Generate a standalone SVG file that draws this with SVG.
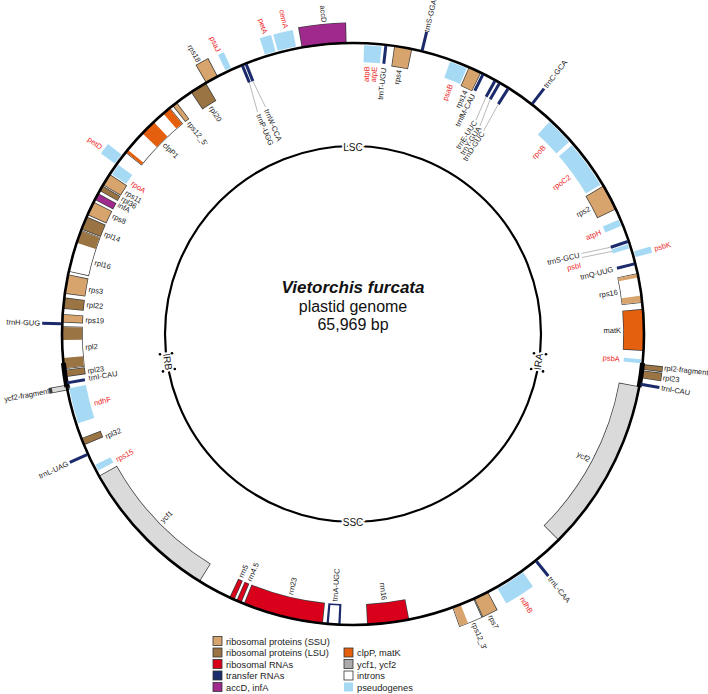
<svg xmlns="http://www.w3.org/2000/svg" xmlns:xlink="http://www.w3.org/1999/xlink" width="708" height="694" viewBox="0 0 708 694">
<style>
.ol{stroke:#3d3d3d;stroke-width:21.4}
.f{stroke-width:20}
.ssu{stroke:#D6A46C}.lsu{stroke:#9A7443}.rrn{stroke:#D9001B}.acc{stroke:#A0298E}.clp{stroke:#E4600E}.ycf{stroke:#DADADA}.wh{stroke:#fff}
.ps{stroke:#A6DAF4;stroke-width:17}
.tr{stroke:#1B2A6B;stroke-width:3}
.ir{stroke:#000;stroke-width:5}
.l{font-family:'Liberation Sans',Arial,sans-serif;font-size:7.5px;fill:#222}
.r{fill:#ED1C24}
.e{text-anchor:end}
.ld{fill:none;stroke:#8a8a8a;stroke-width:0.6}
.lg{font-family:'Liberation Sans',Arial,sans-serif;font-size:9.3px;fill:#222}
.lb{stroke:#333;stroke-width:0.8}
.reg{font-family:'Liberation Sans',Arial,sans-serif;font-size:10px;fill:#111;text-anchor:middle;paint-order:stroke;stroke:#fff;stroke-width:4}
</style>
<defs>
<circle id="ri" cx="353" cy="334" r="281" pathLength="360" fill="none"/>
<circle id="ro" cx="353" cy="334" r="301" pathLength="360" fill="none"/>
<circle id="pi" cx="353" cy="334" r="280.5" pathLength="360" fill="none"/>
<circle id="po" cx="353" cy="334" r="301.5" pathLength="360" fill="none"/>
<circle id="rf" cx="353" cy="334" r="298.5" pathLength="360" fill="none"/>
<circle id="rc" cx="353" cy="334" r="291" pathLength="360" fill="none"/>
</defs>

<!-- outside genes -->
<g id="accD"><use href="#ro" class="ol" stroke-dasharray="8.9 400" transform="rotate(-100.15 353 334)"/><use href="#ro" class="f acc" stroke-dasharray="8.6 400" transform="rotate(-100 353 334)"/></g>
<g id="rps18"><use href="#ro" class="ol" stroke-dasharray="2.7 400" transform="rotate(239.65 353 334)"/><use href="#ro" class="f ssu" stroke-dasharray="2.4 400" transform="rotate(239.8 353 334)"/></g>
<g id="rpl2-fragment"><use href="#ro" class="ol" stroke-dasharray="1.1 400" transform="rotate(5.95 353 334)"/><use href="#ro" class="f lsu" stroke-dasharray="0.8 400" transform="rotate(6.1 353 334)"/></g>
<g id="rpl23-IRA"><use href="#ro" class="ol" stroke-dasharray="1.6 400" transform="rotate(7.15 353 334)"/><use href="#ro" class="f lsu" stroke-dasharray="1.3 400" transform="rotate(7.3 353 334)"/></g>
<g id="rps7"><use href="#ro" class="ol" stroke-dasharray="3.1 400" transform="rotate(62.35 353 334)"/><use href="#ro" class="f ssu" stroke-dasharray="2.8 400" transform="rotate(62.5 353 334)"/></g>
<g id="rps12-3"><use href="#ro" class="ol" stroke-dasharray="4.6 400" transform="rotate(65.45 353 334)"/><use href="#ro" class="f wh" stroke-dasharray="4.3 400" transform="rotate(65.6 353 334)"/><use href="#ro" class="f ssu" stroke-dasharray="1.6 400" transform="rotate(68.3 353 334)"/></g>
<g id="ycf2-fragment"><use href="#rf" class="ol" stroke-width="16.4" stroke-dasharray="1.1 400" transform="rotate(168.85 353 334)"/><use href="#rf" class="ycf" stroke-width="15" stroke-dasharray="0.8 400" transform="rotate(169 353 334)"/></g>
<g id="cemA"><use href="#po" class="ps" stroke-dasharray="3.7 400" transform="rotate(-104.9 353 334)"/></g>
<g id="petA"><use href="#po" class="ps" stroke-dasharray="2.2 400" transform="rotate(-107.5 353 334)"/></g>
<g id="psaJ"><use href="#po" class="ps" stroke-dasharray="1.2 400" transform="rotate(-115.8 353 334)"/></g>
<g id="petD"><use href="#po" class="ps" stroke-dasharray="2.2 400" transform="rotate(215.6 353 334)"/></g>
<g id="psbK"><use href="#po" class="ps" stroke-dasharray="1.2 400" transform="rotate(-16.4 353 334)"/></g>
<g id="ndhB"><use href="#po" class="ps" stroke-dasharray="5.9 400" transform="rotate(54.5 353 334)"/></g>

<!-- inside genes -->
<g id="rps4"><use href="#ri" class="ol" stroke-dasharray="3.6 400" transform="rotate(-81.85 353 334)"/><use href="#ri" class="f ssu" stroke-dasharray="3.3 400" transform="rotate(-81.7 353 334)"/></g>
<g id="rps14"><use href="#ri" class="ol" stroke-dasharray="2.7 400" transform="rotate(-66.55 353 334)"/><use href="#ri" class="f ssu" stroke-dasharray="2.4 400" transform="rotate(-66.4 353 334)"/></g>
<g id="rps2"><use href="#ri" class="ol" stroke-dasharray="5.3 400" transform="rotate(-30.65 353 334)"/><use href="#ri" class="f ssu" stroke-dasharray="5 400" transform="rotate(-30.5 353 334)"/></g>
<g id="rps16"><use href="#ri" class="ol" stroke-dasharray="5.9 400" transform="rotate(-12.05 353 334)"/><use href="#ri" class="f wh" stroke-dasharray="5.6 400" transform="rotate(-11.9 353 334)"/><use href="#ri" class="f ssu" stroke-dasharray="0.7 400" transform="rotate(-11.9 353 334)"/><use href="#ri" class="f ssu" stroke-dasharray="1.3 400" transform="rotate(-7.6 353 334)"/></g>
<g id="matK"><use href="#ri" class="ol" stroke-dasharray="8.3 400" transform="rotate(-4.95 353 334)"/><use href="#ri" class="f clp" stroke-dasharray="8 400" transform="rotate(-4.8 353 334)"/></g>
<g id="ycf2"><use href="#ri" class="ol" stroke-dasharray="34.8 400" transform="rotate(10.35 353 334)"/><use href="#ri" class="f ycf" stroke-dasharray="34.5 400" transform="rotate(10.5 353 334)"/></g>
<g id="rrn16"><use href="#ri" class="ol" stroke-dasharray="8.4 400" transform="rotate(78.85 353 334)"/><use href="#ri" class="f rrn" stroke-dasharray="8.1 400" transform="rotate(79 353 334)"/></g>
<g id="trnA-UGC"><use href="#ri" stroke="#1B2A6B" stroke-width="21.4" stroke-dasharray="2.8 400" transform="rotate(92.45 353 334)"/><use href="#ri" class="wh" stroke-width="18.2" stroke-dasharray="1.9 400" transform="rotate(92.9 353 334)"/></g>
<g id="rrn23"><use href="#ri" class="ol" stroke-dasharray="16.1 400" transform="rotate(95.95 353 334)"/><use href="#ri" class="f rrn" stroke-dasharray="15.8 400" transform="rotate(96.1 353 334)"/></g>
<g id="rrn4.5"><use href="#ri" class="ol" stroke-dasharray="1.1 400" transform="rotate(112.55 353 334)"/><use href="#ri" class="f rrn" stroke-dasharray="0.8 400" transform="rotate(112.7 353 334)"/></g>
<g id="rrn5"><use href="#ri" class="ol" stroke-dasharray="1.1 400" transform="rotate(114.05 353 334)"/><use href="#ri" class="f rrn" stroke-dasharray="0.8 400" transform="rotate(114.2 353 334)"/></g>
<g id="ycf1"><use href="#ri" class="ol" stroke-dasharray="29.1 400" transform="rotate(121.75 353 334)"/><use href="#ri" class="f ycf" stroke-dasharray="28.8 400" transform="rotate(121.9 353 334)"/></g>
<g id="rpl32"><use href="#ri" class="ol" stroke-dasharray="1.5 400" transform="rotate(157.55 353 334)"/><use href="#ri" class="f lsu" stroke-dasharray="1.2 400" transform="rotate(157.7 353 334)"/></g>
<g id="rpl23-IRB"><use href="#ri" class="ol" stroke-dasharray="1.5 400" transform="rotate(171.45 353 334)"/><use href="#ri" class="f lsu" stroke-dasharray="1.2 400" transform="rotate(171.6 353 334)"/></g>
<g id="rpl2"><use href="#ri" class="ol" stroke-dasharray="8.5 400" transform="rotate(173.05 353 334)"/><use href="#ri" class="f wh" stroke-dasharray="8.2 400" transform="rotate(173.2 353 334)"/><use href="#ri" class="f lsu" stroke-dasharray="2.1 400" transform="rotate(173.2 353 334)"/><use href="#ri" class="f lsu" stroke-dasharray="2.6 400" transform="rotate(178.8 353 334)"/></g>
<g id="rps19"><use href="#ri" class="ol" stroke-dasharray="1.7 400" transform="rotate(182.25 353 334)"/><use href="#ri" class="f ssu" stroke-dasharray="1.4 400" transform="rotate(182.4 353 334)"/></g>
<g id="rpl22"><use href="#ri" class="ol" stroke-dasharray="2.3 400" transform="rotate(184.95 353 334)"/><use href="#ri" class="f lsu" stroke-dasharray="2 400" transform="rotate(185.1 353 334)"/></g>
<g id="rps3"><use href="#ri" class="ol" stroke-dasharray="3.9 400" transform="rotate(187.95 353 334)"/><use href="#ri" class="f ssu" stroke-dasharray="3.6 400" transform="rotate(188.1 353 334)"/></g>
<g id="rpl16"><use href="#ri" class="ol" stroke-dasharray="8.6 400" transform="rotate(192.35 353 334)"/><use href="#ri" class="f wh" stroke-dasharray="8.3 400" transform="rotate(192.5 353 334)"/><use href="#ri" class="f lsu" stroke-dasharray="2.5 400" transform="rotate(198.3 353 334)"/></g>
<g id="rpl14"><use href="#ri" class="ol" stroke-dasharray="2.8 400" transform="rotate(201.05 353 334)"/><use href="#ri" class="f lsu" stroke-dasharray="2.5 400" transform="rotate(201.2 353 334)"/></g>
<g id="rps8"><use href="#ri" class="ol" stroke-dasharray="2.9 400" transform="rotate(204.15 353 334)"/><use href="#ri" class="f ssu" stroke-dasharray="2.6 400" transform="rotate(204.3 353 334)"/></g>
<g id="infA"><use href="#ri" class="ol" stroke-dasharray="1.5 400" transform="rotate(207.45 353 334)"/><use href="#ri" class="f acc" stroke-dasharray="1.2 400" transform="rotate(207.6 353 334)"/></g>
<g id="rpl36"><use href="#ri" class="ol" stroke-dasharray="1.2 400" transform="rotate(209.45 353 334)"/><use href="#ri" class="f lsu" stroke-dasharray="0.9 400" transform="rotate(209.6 353 334)"/></g>
<g id="rps11"><use href="#ri" class="ol" stroke-dasharray="2.6 400" transform="rotate(210.75 353 334)"/><use href="#ri" class="f ssu" stroke-dasharray="2.3 400" transform="rotate(210.9 353 334)"/></g>
<g id="clpP1"><use href="#ri" class="ol" stroke-dasharray="12.5 400" transform="rotate(218.55 353 334)"/><use href="#ri" class="f wh" stroke-dasharray="12.2 400" transform="rotate(218.7 353 334)"/><use href="#ri" class="f clp" stroke-dasharray="0.6 400" transform="rotate(218.7 353 334)"/><use href="#ri" class="f clp" stroke-dasharray="3.2 400" transform="rotate(223.6 353 334)"/><use href="#ri" class="f clp" stroke-dasharray="1.6 400" transform="rotate(229.3 353 334)"/></g>
<g id="rps12-5"><use href="#ri" class="ol" stroke-dasharray="1.1 400" transform="rotate(231.65 353 334)"/><use href="#ri" class="f ssu" stroke-dasharray="0.8 400" transform="rotate(231.8 353 334)"/></g>
<g id="rpl20"><use href="#ri" class="ol" stroke-dasharray="3.5 400" transform="rotate(236.15 353 334)"/><use href="#ri" class="f lsu" stroke-dasharray="3.2 400" transform="rotate(236.3 353 334)"/></g>
<g id="atpB-atpE"><use href="#pi" class="ps" stroke-dasharray="3.5 400" transform="rotate(-87.8 353 334)"/></g>
<g id="psaB"><use href="#pi" class="ps" stroke-dasharray="3.6 400" transform="rotate(-70.4 353 334)"/></g>
<g id="rpoB"><use href="#pi" class="ps" stroke-dasharray="5.6 400" transform="rotate(-47.2 353 334)"/></g>
<g id="rpoC2"><use href="#pi" class="ps" stroke-dasharray="9.7 400" transform="rotate(-40.8 353 334)"/></g>
<g id="atpH"><use href="#pi" class="ps" stroke-dasharray="1.4 400" transform="rotate(-23.3 353 334)"/></g>
<g id="psbI"><use href="#pi" class="ps" stroke-dasharray="0.9 400" transform="rotate(-18.1 353 334)"/></g>
<g id="psbA"><use href="#pi" class="ps" stroke-dasharray="0.8 400" transform="rotate(5 353 334)"/></g>
<g id="rps15"><use href="#pi" class="ps" stroke-dasharray="1.3 400" transform="rotate(151.8 353 334)"/></g>
<g id="ndhF"><use href="#pi" class="ps" stroke-dasharray="7.2 400" transform="rotate(162 353 334)"/></g>
<g id="rpoA"><use href="#pi" class="ps" stroke-dasharray="2.3 400" transform="rotate(213.5 353 334)"/></g>

<!-- circles -->
<g id="genome-circle">
<circle cx="353" cy="334" r="291" fill="none" stroke="#000" stroke-width="2.6"/>
<use href="#rc" class="ir" stroke-dasharray="4.8 400" transform="rotate(5.7 353 334)"/>
<use href="#rc" class="ir" stroke-dasharray="4.8 400" transform="rotate(169.5 353 334)"/>
</g>

<!-- tRNAs -->
<g id="trnas">
<line class="tr" x1="353" y1="42" x2="353" y2="23" transform="rotate(13.7 353 334)"/>
<line class="tr" x1="353" y1="42" x2="353" y2="23" transform="rotate(37.9 353 334)"/>
<line class="tr" x1="353" y1="42" x2="353" y2="23" transform="rotate(99.9 353 334)"/>
<line class="tr" x1="353" y1="42" x2="353" y2="23" transform="rotate(141.1 353 334)"/>
<line class="tr" x1="353" y1="42" x2="353" y2="23" transform="rotate(245.6 353 334)"/>
<line class="tr" x1="353" y1="42" x2="353" y2="23" transform="rotate(272 353 334)"/>
<line class="tr" x1="353" y1="44" x2="353" y2="62" transform="rotate(6.5 353 334)"/>
<line class="tr" x1="353" y1="44" x2="353" y2="62" transform="rotate(26.6 353 334)"/>
<line class="tr" x1="353" y1="44" x2="353" y2="62" transform="rotate(29.3 353 334)"/>
<line class="tr" x1="353" y1="44" x2="353" y2="62" transform="rotate(30.3 353 334)"/>
<line class="tr" x1="353" y1="44" x2="353" y2="62" transform="rotate(32.3 353 334)"/>
<line class="tr" x1="353" y1="44" x2="353" y2="62" transform="rotate(71.4 353 334)"/>
<line class="tr" x1="353" y1="44" x2="353" y2="62" transform="rotate(76 353 334)"/>
<line class="tr" x1="353" y1="44" x2="353" y2="62" transform="rotate(260.3 353 334)"/>
<line class="tr" x1="353" y1="44" x2="353" y2="62" transform="rotate(337.6 353 334)"/>
<line class="tr" x1="353" y1="44" x2="353" y2="62" transform="rotate(338.4 353 334)"/>
</g>

<!-- inner circle and regions -->
<g id="regions">
<circle cx="353" cy="334" r="188" fill="none" stroke="#000" stroke-width="2.2"/>
<text class="reg" x="353" y="150.5">LSC</text>
<text class="reg" x="353" y="525.5">SSC</text>
<text class="reg" font-size="8.5" transform="translate(538.9 361.8) rotate(-81.5)" x="0" y="3">IRA</text>
<text class="reg" font-size="8.5" transform="translate(167.1 361.8) rotate(81.5)" x="0" y="3">IRB</text>
<g fill="#000">
<circle cx="534" cy="353.2" r="1.3"/><circle cx="546" cy="354.2" r="1.3"/>
<circle cx="531.2" cy="369" r="1.3"/><circle cx="543" cy="371.4" r="1.3"/>
<circle cx="172" cy="353.2" r="1.3"/><circle cx="160" cy="354.2" r="1.3"/>
<circle cx="174.8" cy="369" r="1.3"/><circle cx="163" cy="371.4" r="1.3"/>
</g>
</g>

<!-- connectors (leader lines) -->
<g id="connectors">
<polyline class="ld" points="249.3,82.5 257.5,112"/>
<polyline class="ld" points="252.9,81.1 265.5,107"/>
<polyline class="ld" points="486.1,96.8 476,120"/>
<polyline class="ld" points="490.2,99.2 480,126"/>
<polyline class="ld" points="498.4,104.1 483.5,131"/>
<polyline class="ld" points="610.8,247.2 581.5,253.5"/>
<polyline class="ld" points="612.1,251.3 582,257.5"/>
</g>

<!-- labels -->
<g id="labels">
<!-- right outside -->
<text class="l" font-size="6.5px" transform="rotate(-76.3 353 334)" x="664" y="336.3">trnS-GGA</text>
<text class="l" transform="rotate(-52.1 353 334)" x="666" y="336.6">trnC-GCA</text>
<text class="l r" transform="rotate(-15.8 353 334)" x="666" y="336.6">psbK</text>
<text class="l" transform="rotate(6.2 353 334)" x="666" y="336.6">rpl2-fragment</text>
<text class="l" transform="rotate(8 353 334)" x="666" y="336.6">rpl23</text>
<text class="l" transform="rotate(9.9 353 334)" x="666" y="336.6">trnI-CAU</text>
<text class="l" transform="rotate(51.1 353 334)" x="666" y="336.6">trnL-CAA</text>
<text class="l r" transform="rotate(57.4 353 334)" x="666" y="336.6">ndhB</text>
<text class="l" transform="rotate(64 353 334)" x="666" y="336.6">rps7</text>
<text class="l" transform="rotate(67.3 353 334)" x="666" y="336.6">rps12_3'</text>
<!-- right inside -->
<text class="l r e" transform="rotate(-87 353 334)" x="621" y="336.6">atpB</text>
<text class="l r e" transform="rotate(-85.4 353 334)" x="621" y="336.6">atpE</text>
<text class="l e" transform="rotate(-83.4 353 334)" x="621" y="336.6">trnT-UGU</text>
<text class="l e" transform="rotate(-80.1 353 334)" x="621" y="336.6">rps4</text>
<text class="l r e" transform="rotate(-68.6 353 334)" x="621" y="336.6">psaB</text>
<text class="l e" transform="rotate(-65.2 353 334)" x="621" y="336.6">rps14</text>
<text class="l e" transform="rotate(-63.4 353 334)" x="621" y="336.6">trnfM-CAU</text>
<text class="l r e" transform="rotate(-44.4 353 334)" x="621" y="336.6">rpoB</text>
<text class="l r e" transform="rotate(-36 353 334)" x="621" y="336.6">rpoC2</text>
<text class="l e" transform="rotate(-28 353 334)" x="621" y="336.6">rps2</text>
<text class="l r e" transform="rotate(-22.4 353 334)" x="621" y="336.6">atpH</text>
<text class="l e" transform="rotate(-14 353 334)" x="621" y="336.6">trnQ-UUG</text>
<text class="l e" transform="rotate(-9 353 334)" x="621" y="336.6">rps16</text>
<text class="l e" transform="rotate(-0.8 353 334)" x="621" y="336.6">matK</text>
<text class="l r e" transform="rotate(5.4 353 334)" x="621" y="336.6">psbA</text>
<text class="l e" transform="rotate(28 353 334)" x="621" y="336.6">ycf2</text>
<text class="l e" transform="rotate(83.3 353 334)" x="621" y="336.6">rrn16</text>
<!-- left outside -->
<text class="l e" transform="rotate(-24.4 353 334)" x="40" y="336.6">trnL-UAG</text>
<text class="l e" transform="rotate(-10.6 353 334)" x="44" y="336.6">ycf2-fragment</text>
<text class="l e" transform="rotate(2 353 334)" x="40" y="336.6">trnH-GUG</text>
<text class="l r e" transform="rotate(36.5 353 334)" x="40" y="336.6">petD</text>
<text class="l e" transform="rotate(60.5 353 334)" x="40" y="336.6">rps18</text>
<text class="l r e" transform="rotate(64.6 353 334)" x="40" y="336.6">psaJ</text>
<text class="l r e" transform="rotate(73.7 353 334)" x="40" y="336.6">petA</text>
<text class="l r e" transform="rotate(77.6 353 334)" x="40" y="336.6">cemA</text>
<text class="l e" transform="rotate(84.7 353 334)" x="40" y="336.6">accD</text>
<!-- left inside -->
<text class="l" transform="rotate(273.9 353 334)" x="85" y="336.6">trnA-UGC</text>
<text class="l" transform="rotate(283.5 353 334)" x="85" y="336.6">rrn23</text>
<text class="l" transform="rotate(292.8 353 334)" x="85" y="336.6">rrn4.5</text>
<text class="l" transform="rotate(294.8 353 334)" x="85" y="336.6">rrn5</text>
<text class="l" transform="rotate(315.6 353 334)" x="85" y="336.6">ycf1</text>
<text class="l r" transform="rotate(332 353 334)" x="85" y="336.6">rps15</text>
<text class="l" transform="rotate(337.5 353 334)" x="85" y="336.6">rpl32</text>
<text class="l r" transform="rotate(345 353 334)" x="85" y="336.6">ndhF</text>
<text class="l" transform="rotate(350.5 353 334)" x="85" y="336.6">trnI-CAU</text>
<text class="l" transform="rotate(352.1 353 334)" x="85" y="336.6">rpl23</text>
<text class="l" transform="rotate(357.2 353 334)" x="85" y="336.6">rpl2</text>
<text class="l" transform="rotate(3 353 334)" x="85" y="336.6">rps19</text>
<text class="l" transform="rotate(6.3 353 334)" x="85" y="336.6">rpl22</text>
<text class="l" transform="rotate(9.6 353 334)" x="85" y="336.6">rps3</text>
<text class="l" transform="rotate(15.5 353 334)" x="85" y="336.6">rpl16</text>
<text class="l" transform="rotate(22 353 334)" x="85" y="336.6">rpl14</text>
<text class="l" transform="rotate(26.2 353 334)" x="85" y="336.6">rps8</text>
<text class="l" transform="rotate(28.9 353 334)" x="85" y="336.6">infA</text>
<text class="l" transform="rotate(30.4 353 334)" x="85" y="336.6">rpl36</text>
<text class="l" transform="rotate(32 353 334)" x="85" y="336.6">rps11</text>
<text class="l r" transform="rotate(34.4 353 334)" x="85" y="336.6">rpoA</text>
<text class="l" transform="rotate(45.2 353 334)" x="85" y="336.6">clpP1</text>
<text class="l" transform="rotate(52.2 353 334)" x="85" y="336.6">rps12_5'</text>
<text class="l" transform="rotate(58 353 334)" x="85" y="336.6">rpl20</text>
<!-- leader labels -->
<text class="l" transform="translate(258.5 114.5) rotate(67)" x="0" y="2.6">trnP-UGG</text>
<text class="l" transform="translate(266.5 109.5) rotate(67)" x="0" y="2.6">trnW-CCA</text>
<text class="l e" transform="translate(475.2 121.3) rotate(-57)" x="0" y="2.6">trnE-UUC</text>
<text class="l e" transform="translate(479.2 127.3) rotate(-57)" x="0" y="2.6">trnY-GUA</text>
<text class="l e" transform="translate(482.7 132.3) rotate(-57)" x="0" y="2.6">trnD-GUC</text>
<text class="l e" transform="translate(579.5 255) rotate(-13)" x="0" y="2.6">trnS-GCU</text>
<text class="l r e" transform="translate(581 265) rotate(-13)" x="0" y="2.6">psbI</text>
</g>

<!-- title -->
<g id="title" font-family="'Liberation Sans',Arial,sans-serif" text-anchor="middle" fill="#111">
<text x="353" y="293" font-size="17" font-weight="bold" font-style="italic">Vietorchis furcata</text>
<text x="353" y="312" font-size="16">plastid genome</text>
<text x="353" y="330" font-size="16">65,969 bp</text>
</g>

<!-- legend -->
<g id="legend">
<rect class="lb" x="213" y="636.5" width="9" height="9" fill="#D6A46C"/><text class="lg" x="226" y="644.5">ribosomal proteins (SSU)</text>
<rect class="lb" x="213" y="648" width="9" height="9" fill="#9A7443"/><text class="lg" x="226" y="656">ribosomal proteins (LSU)</text>
<rect class="lb" x="213" y="659.5" width="9" height="9" fill="#D9001B"/><text class="lg" x="226" y="667.5">ribosomal RNAs</text>
<rect class="lb" x="213" y="671" width="9" height="9" fill="#1B2A6B"/><text class="lg" x="226" y="679">transfer RNAs</text>
<rect class="lb" x="213" y="682.5" width="9" height="9" fill="#A0298E"/><text class="lg" x="226" y="690.5">accD, infA</text>
<rect class="lb" x="344" y="648" width="9" height="9" fill="#E4600E"/><text class="lg" x="357" y="656">clpP, matK</text>
<rect class="lb" x="344" y="659.5" width="9" height="9" fill="#ABABAB"/><text class="lg" x="357" y="667.5">ycf1, ycf2</text>
<rect class="lb" x="344" y="671" width="9" height="9" fill="#fff"/><text class="lg" x="357" y="679">introns</text>
<rect x="344" y="682.5" width="9" height="9" fill="#A6DAF4"/><text class="lg" x="357" y="690.5">pseudogenes</text>
</g>
</svg>
